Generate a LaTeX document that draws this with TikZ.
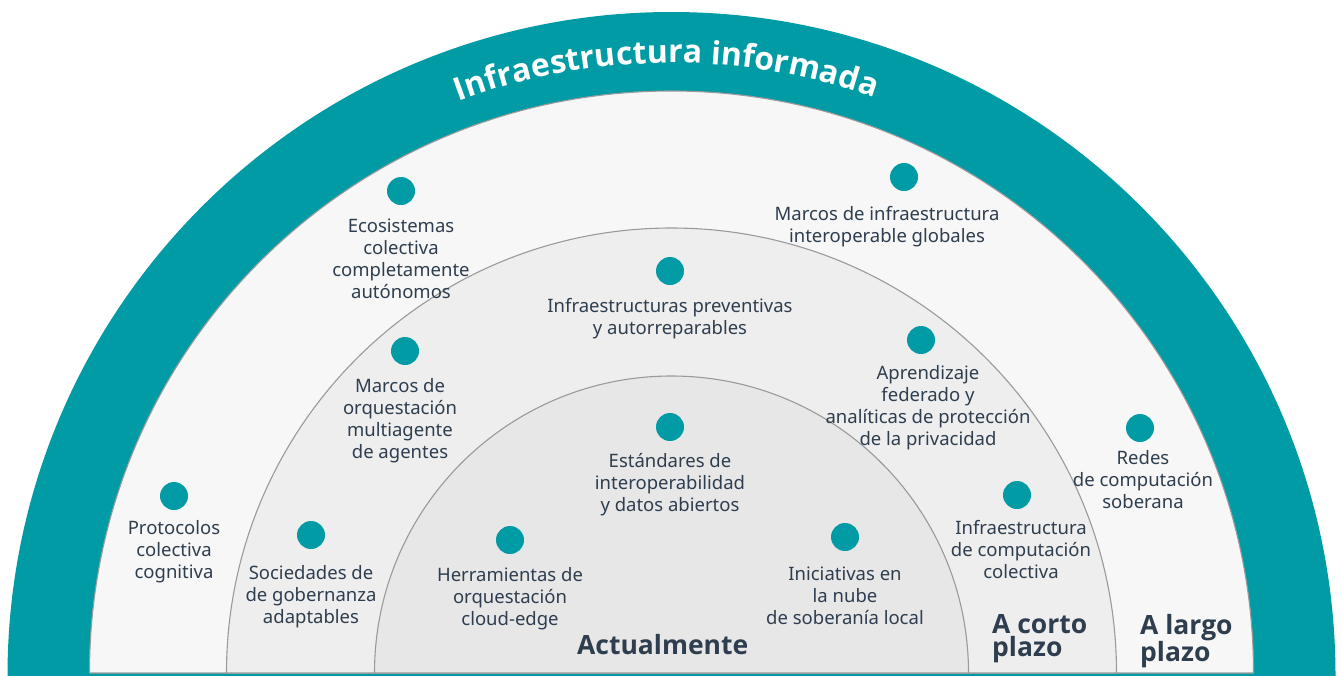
\documentclass[tikz,border=0pt]{standalone}
\usepackage{fontspec}
\setmainfont{Noto Sans}
\newfontfamily\boldface{Open Sans}
\usetikzlibrary{decorations.text}
\definecolor{tealband}{HTML}{009BA5}
\definecolor{ringA}{HTML}{F7F7F7}
\definecolor{ringB}{HTML}{EEEEEE}
\definecolor{ringC}{HTML}{E7E7E7}
\definecolor{txt}{HTML}{2E3E4F}
\definecolor{edge}{HTML}{9A9A9A}
\tikzset{
  dot/.style={circle, fill=tealband, minimum size=28pt, inner sep=0pt},
  lbl/.style={anchor=north, align=center, inner sep=0pt, text=txt,
    font=\fontsize{18.5}{22}\selectfont, execute at begin node={\rule{0pt}{18pt}}},
  big/.style={inner sep=0pt, text=txt, font=\boldface\bfseries\fontsize{26.5}{23}\selectfont},
  ring/.style={draw=edge, line width=1.1pt}
}
\begin{document}
\begin{tikzpicture}[x=1pt,y=-1pt]
\useasboundingbox (0,0) rectangle (1343,675);
\clip (0,0) rectangle (1343,675);
\fill[white] (0,0) rectangle (1343,675);
% teal band
\fill[tealband] (671.5,676) circle[radius=664];
% rings
\filldraw[ring, fill=ringA] (89.5,673) arc[start angle=180, end angle=360, radius=582] -- cycle;
\filldraw[ring, fill=ringB] (226.5,673) arc[start angle=180, end angle=360, radius=445] -- cycle;
\filldraw[ring, fill=ringC] (374.5,673) arc[start angle=180, end angle=360, radius=297] -- cycle;
% curved title
\path[decorate, decoration={text along path, text align=center,
  text={|\color{white}\boldface\bfseries\fontsize{32}{32}\selectfont|Infraestructura informada}}]
  (671.5,673) ++(209.5:610) arc[start angle=209.5, end angle=329.5, radius=610];
% dots
\node[dot] (d1) at (401,191) {};
\node[dot] (d2) at (904,177) {};
\node[dot] (d3) at (670,271) {};
\node[dot] (d4) at (405,351) {};
\node[dot] (d5) at (921,340) {};
\node[dot] (d6) at (1140,428) {};
\node[dot] (d7) at (670,427) {};
\node[dot] (d8) at (174,496) {};
\node[dot] (d9) at (311,535) {};
\node[dot] (d10) at (510,540) {};
\node[dot] (d11) at (845,537) {};
\node[dot] (d12) at (1017,495) {};
% labels
\node[lbl] (t1) at (401,219) {Ecosistemas\\colectiva\\completamente\\autónomos};
\node[lbl] (t2) at (887,206) {Marcos de infraestructura\\interoperable globales};
\node[lbl] (t3) at (670,298) {Infraestructuras preventivas\\y autorreparables};
\node[lbl] (t4) at (400,378) {Marcos de\\orquestación\\multiagente\\de agentes};
\node[lbl] (t5) at (928,365) {Aprendizaje\\federado y\\analíticas de protección\\de la privacidad};
\node[lbl] (t6) at (1143,450) {Redes\\de computación\\soberana};
\node[lbl] (t7) at (670,453) {Estándares de\\interoperabilidad\\y datos abiertos};
\node[lbl] (t8) at (174,520) {Protocolos\\colectiva\\cognitiva};
\node[lbl] (t9) at (311,565) {Sociedades de\\de gobernanza\\adaptables};
\node[lbl] (t10) at (510,567) {Herramientas de\\orquestación\\cloud-edge};
\node[lbl] (t11) at (845,567) {Iniciativas en\\la nube\\de soberanía local};
\node[lbl] (t12) at (1021,520) {Infraestructura\\de computación\\colectiva};
% horizon labels
\node[big, anchor=base] (h1) at (662.7,654) {Actualmente};
\node[big, anchor=north west, align=left, execute at begin node={\rule{0pt}{26pt}}] (h2) at (992,614) {A corto\\plazo};
\node[big, anchor=north west, align=left, execute at begin node={\rule{0pt}{26pt}}] (h3) at (1140,614) {A largo\\plazo};
\end{tikzpicture}
\end{document}
